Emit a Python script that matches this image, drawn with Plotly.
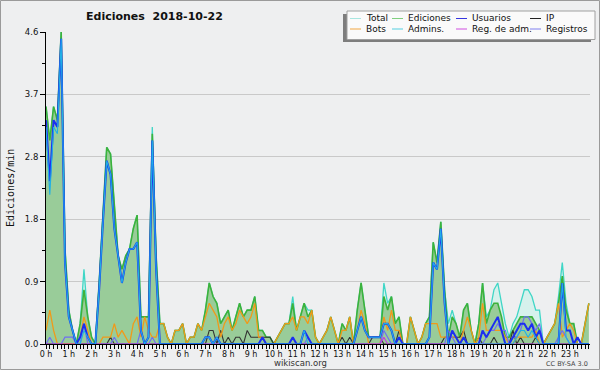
import plotly.graph_objects as go

# 10-minute slots over the day (144 slots)
slots = list(range(144))
hour_ticks = list(range(0, 144, 6))
hour_labels = [f"{h} h" for h in range(24)]
y_ticks = [0, 0.92, 1.84, 2.76, 3.68, 4.6]
y_labels = ["0.0", "0.9", "1.8", "2.8", "3.7", "4.6"]

ediciones = [
    3.5, 3.0, 3.5, 3.3, 4.6, 1.4, 0.5, 0.2, 0.0, 0.3, 0.8, 0.4,
    0.1, 0.0, 0.9, 1.9, 2.9, 2.8, 2.0, 1.3, 1.1, 1.3, 1.4, 1.7,
    1.9, 0.4, 0.4, 0.4, 3.1, 1.3, 0.3, 0.3, 0.1, 0.0, 0.2, 0.2,
    0.3, 0.0, 0.1, 0.1, 0.3, 0.2, 0.5, 0.9, 0.7, 0.6, 0.3, 0.4,
    0.5, 0.2, 0.4, 0.6, 0.4, 0.5, 0.5, 0.7, 0.2, 0.2, 0.1, 0.1,
    0.0, 0.1, 0.2, 0.3, 0.3, 0.6, 0.2, 0.4, 0.6, 0.4, 0.5, 0.1,
    0.0, 0.1, 0.2, 0.4, 0.2, 0.0, 0.3, 0.2, 0.4, 0.0, 0.5, 0.9,
    0.5, 0.1, 0.1, 0.1, 0.1, 0.7, 0.5, 0.7, 0.3, 0.4, 0.0, 0.0,
    0.4, 0.2, 0.0, 0.1, 0.3, 0.4, 1.5, 1.2, 1.8, 0.8, 0.1, 0.4,
    0.3, 0.1, 0.5, 0.6, 0.2, 0.0, 0.3, 0.9, 0.3, 0.5, 0.6, 0.6,
    0.4, 0.1, 0.1, 0.2, 0.3, 0.4, 0.4, 0.4, 0.4, 0.3, 0.2, 0.0,
    0.1, 0.2, 0.3, 0.6, 1.0, 0.5, 0.3, 0.3, 0.0, 0.0, 0.3, 0.6,
]

total = [
    3.5, 3.0, 3.5, 3.3, 4.6, 1.4, 0.5, 0.2, 0.0, 0.3, 1.1, 0.4,
    0.1, 0.0, 0.9, 1.9, 2.9, 2.8, 2.0, 1.3, 1.1, 1.3, 1.4, 1.7,
    1.9, 0.4, 0.4, 0.4, 3.2, 1.3, 0.3, 0.3, 0.1, 0.0, 0.2, 0.2,
    0.3, 0.0, 0.1, 0.1, 0.3, 0.2, 0.5, 0.9, 0.7, 0.6, 0.3, 0.4,
    0.5, 0.2, 0.4, 0.6, 0.4, 0.5, 0.5, 0.7, 0.2, 0.2, 0.1, 0.1,
    0.0, 0.1, 0.2, 0.3, 0.3, 0.7, 0.2, 0.4, 0.6, 0.5, 0.5, 0.1,
    0.0, 0.1, 0.2, 0.4, 0.2, 0.0, 0.3, 0.2, 0.4, 0.0, 0.5, 0.9,
    0.5, 0.1, 0.1, 0.1, 0.1, 0.9, 0.6, 0.7, 0.3, 0.4, 0.0, 0.0,
    0.4, 0.2, 0.0, 0.1, 0.3, 0.4, 1.5, 1.2, 1.8, 0.8, 0.3, 0.5,
    0.3, 0.1, 0.5, 0.6, 0.2, 0.0, 0.3, 0.9, 0.4, 0.5, 0.8, 0.9,
    0.6, 0.3, 0.1, 0.3, 0.4, 0.6, 0.8, 0.8, 0.7, 0.5, 0.5, 0.0,
    0.1, 0.2, 0.3, 0.7, 1.2, 0.6, 0.3, 0.3, 0.0, 0.0, 0.3, 0.6,
]

usuarios = [
    3.3, 2.4, 3.3, 3.2, 4.5, 1.2, 0.4, 0.2, 0.0, 0.1, 0.3, 0.1,
    0.0, 0.0, 0.8, 1.8, 2.7, 2.5, 1.7, 1.3, 0.9, 1.2, 1.4, 1.4,
    1.5, 0.2, 0.0, 0.1, 3.0, 1.1, 0.0, 0.0, 0.0, 0.0, 0.0, 0.0,
    0.0, 0.0, 0.0, 0.0, 0.0, 0.0, 0.1, 0.1, 0.0, 0.1, 0.0, 0.0,
    0.0, 0.0, 0.0, 0.0, 0.0, 0.0, 0.0, 0.0, 0.0, 0.1, 0.0, 0.0,
    0.0, 0.0, 0.0, 0.0, 0.0, 0.1, 0.0, 0.0, 0.2, 0.1, 0.0, 0.0,
    0.0, 0.0, 0.0, 0.0, 0.0, 0.0, 0.0, 0.0, 0.0, 0.0, 0.2, 0.4,
    0.2, 0.1, 0.1, 0.1, 0.1, 0.3, 0.3, 0.2, 0.0, 0.1, 0.0, 0.0,
    0.0, 0.0, 0.0, 0.0, 0.0, 0.1, 1.2, 1.1, 1.7, 0.6, 0.0, 0.2,
    0.1, 0.0, 0.1, 0.0, 0.0, 0.0, 0.0, 0.2, 0.1, 0.2, 0.3, 0.4,
    0.2, 0.0, 0.0, 0.1, 0.2, 0.3, 0.3, 0.2, 0.3, 0.1, 0.2, 0.0,
    0.0, 0.0, 0.0, 0.0, 0.9, 0.2, 0.2, 0.0, 0.1, 0.0, 0.0, 0.0,
]

admins = [
    3.2, 2.2, 3.2, 3.1, 4.5, 1.2, 0.4, 0.2, 0.0, 0.0, 0.2, 0.1,
    0.0, 0.0, 0.8, 1.8, 2.7, 2.5, 1.7, 1.3, 0.9, 1.2, 1.4, 1.4,
    1.5, 0.2, 0.0, 0.1, 3.0, 1.1, 0.0, 0.0, 0.0, 0.0, 0.0, 0.0,
    0.0, 0.0, 0.0, 0.0, 0.0, 0.0, 0.1, 0.1, 0.0, 0.1, 0.0, 0.0,
    0.0, 0.0, 0.0, 0.0, 0.0, 0.0, 0.0, 0.0, 0.0, 0.0, 0.0, 0.0,
    0.0, 0.0, 0.0, 0.0, 0.0, 0.0, 0.0, 0.0, 0.2, 0.0, 0.0, 0.0,
    0.0, 0.0, 0.0, 0.0, 0.0, 0.0, 0.0, 0.0, 0.0, 0.0, 0.2, 0.4,
    0.2, 0.1, 0.1, 0.1, 0.1, 0.3, 0.3, 0.2, 0.0, 0.0, 0.0, 0.0,
    0.0, 0.0, 0.0, 0.0, 0.0, 0.1, 1.2, 1.1, 1.7, 0.6, 0.0, 0.0,
    0.0, 0.0, 0.0, 0.0, 0.0, 0.0, 0.0, 0.0, 0.0, 0.0, 0.0, 0.0,
    0.0, 0.0, 0.0, 0.0, 0.1, 0.2, 0.2, 0.1, 0.2, 0.1, 0.0, 0.0,
    0.0, 0.0, 0.0, 0.0, 0.9, 0.1, 0.0, 0.0, 0.0, 0.0, 0.0, 0.0,
]

bots = [
    0.2, 0.5, 0.2, 0.0, 0.0, 0.0, 0.0, 0.0, 0.0, 0.1, 0.4, 0.2,
    0.0, 0.0, 0.0, 0.1, 0.1, 0.1, 0.3, 0.1, 0.2, 0.1, 0.0, 0.3,
    0.4, 0.1, 0.4, 0.2, 0.1, 0.1, 0.3, 0.3, 0.1, 0.0, 0.2, 0.2,
    0.3, 0.0, 0.1, 0.1, 0.3, 0.2, 0.4, 0.6, 0.5, 0.4, 0.1, 0.3,
    0.4, 0.2, 0.3, 0.5, 0.4, 0.3, 0.4, 0.6, 0.1, 0.1, 0.0, 0.0,
    0.0, 0.1, 0.2, 0.3, 0.3, 0.4, 0.2, 0.4, 0.4, 0.3, 0.5, 0.1,
    0.0, 0.1, 0.2, 0.4, 0.2, 0.0, 0.2, 0.2, 0.4, 0.0, 0.2, 0.5,
    0.3, 0.0, 0.0, 0.0, 0.0, 0.4, 0.2, 0.5, 0.2, 0.2, 0.0, 0.0,
    0.4, 0.2, 0.0, 0.1, 0.3, 0.3, 0.3, 0.3, 0.1, 0.1, 0.1, 0.1,
    0.1, 0.0, 0.2, 0.4, 0.2, 0.0, 0.1, 0.6, 0.2, 0.2, 0.2, 0.2,
    0.2, 0.1, 0.0, 0.0, 0.1, 0.1, 0.1, 0.1, 0.1, 0.2, 0.0, 0.0,
    0.1, 0.2, 0.3, 0.6, 0.1, 0.2, 0.3, 0.2, 0.0, 0.0, 0.3, 0.6,
]

ip = [
    0.0, 0.0, 0.0, 0.0, 0.0, 0.0, 0.0, 0.0, 0.0, 0.0, 0.0, 0.0,
    0.0, 0.0, 0.0, 0.0, 0.0, 0.1, 0.0, 0.0, 0.0, 0.0, 0.0, 0.0,
    0.0, 0.0, 0.0, 0.0, 0.0, 0.0, 0.0, 0.0, 0.0, 0.0, 0.0, 0.0,
    0.0, 0.0, 0.0, 0.0, 0.0, 0.0, 0.0, 0.2, 0.2, 0.0, 0.2, 0.0,
    0.1, 0.0, 0.1, 0.1, 0.0, 0.2, 0.1, 0.1, 0.1, 0.1, 0.1, 0.1,
    0.0, 0.0, 0.0, 0.0, 0.0, 0.0, 0.0, 0.0, 0.0, 0.0, 0.0, 0.0,
    0.0, 0.0, 0.0, 0.0, 0.0, 0.0, 0.1, 0.0, 0.1, 0.0, 0.0, 0.0,
    0.0, 0.0, 0.1, 0.1, 0.1, 0.0, 0.0, 0.0, 0.0, 0.2, 0.0, 0.0,
    0.0, 0.0, 0.0, 0.0, 0.0, 0.0, 0.0, 0.0, 0.0, 0.1, 0.1, 0.1,
    0.1, 0.1, 0.2, 0.0, 0.0, 0.0, 0.1, 0.0, 0.0, 0.0, 0.1, 0.0,
    0.0, 0.0, 0.0, 0.2, 0.0, 0.1, 0.0, 0.0, 0.0, 0.1, 0.0, 0.0,
    0.0, 0.0, 0.0, 0.0, 0.0, 0.0, 0.0, 0.0, 0.1, 0.0, 0.0, 0.0,
]

registros = [
    0.0, 0.1, 0.0, 0.0, 0.0, 0.1, 0.1, 0.1, 0.0, 0.0, 0.3, 0.0,
    0.0, 0.0, 0.0, 0.0, 0.0, 0.0, 0.1, 0.0, 0.0, 0.0, 0.0, 0.0,
    0.0, 0.2, 0.0, 0.0, 0.1, 0.0, 0.0, 0.0, 0.0, 0.0, 0.0, 0.0,
    0.0, 0.0, 0.0, 0.0, 0.0, 0.0, 0.0, 0.0, 0.0, 0.0, 0.0, 0.0,
    0.0, 0.0, 0.0, 0.0, 0.0, 0.0, 0.0, 0.0, 0.0, 0.0, 0.0, 0.0,
    0.0, 0.0, 0.0, 0.0, 0.0, 0.1, 0.0, 0.0, 0.0, 0.1, 0.0, 0.0,
    0.0, 0.0, 0.0, 0.0, 0.0, 0.0, 0.0, 0.0, 0.0, 0.0, 0.0, 0.0,
    0.0, 0.0, 0.0, 0.0, 0.0, 0.2, 0.1, 0.0, 0.0, 0.0, 0.0, 0.0,
    0.0, 0.0, 0.0, 0.0, 0.0, 0.0, 0.0, 0.0, 0.0, 0.0, 0.2, 0.1,
    0.0, 0.0, 0.0, 0.0, 0.0, 0.0, 0.0, 0.0, 0.1, 0.2, 0.2, 0.3,
    0.2, 0.2, 0.0, 0.1, 0.1, 0.2, 0.4, 0.4, 0.3, 0.2, 0.3, 0.0,
    0.0, 0.0, 0.0, 0.1, 0.2, 0.1, 0.0, 0.0, 0.0, 0.0, 0.0, 0.0,
]

reg_adm = [0.0] * 89 + [0.1] + [0.0] * 54

series = [
    ("Total", total, "#3fd6c6", 1.3),
    ("Ediciones", ediciones, "#3cb23c", 1.6),
    ("IP", ip, "#333333", 1.1),
    ("Bots", bots, "#f09a1a", 1.3),
    ("Registros", registros, "#6f6ff2", 1.2),
    ("Reg. de adm.", reg_adm, "#c040e0", 1.2),
    ("Usuarios", usuarios, "#1c2ff0", 2.0),
    ("Admins.", admins, "#1fb0e6", 1.1),
]

fig = go.Figure()
for name, vals, color, w in series:
    kw = {}
    if name == "Total":
        kw = dict(fill="tozeroy", fillcolor="#d6f1ec")
    elif name == "Ediciones":
        kw = dict(fill="tozeroy", fillcolor="#99cc99")
    fig.add_trace(go.Scatter(x=slots, y=vals, mode="lines", name=name,
                             line=dict(color=color, width=w), showlegend=False,
                             hoverinfo="skip", **kw))

L, R, T, B, W, H = 46, 10, 32, 26, 600, 370
PW, PH = W - L - R, H - T - B

def px(x):
    return (x - L) / PW

def py(y):
    return (H - B - y) / PH

shapes = []
annotations = []

# outer frame
shapes.append(dict(type="rect", xref="paper", yref="paper", x0=px(0.5), x1=px(599.5),
                   y0=py(369.5), y1=py(0.5), line=dict(color="#9a9a9a", width=1), layer="below"))

# legend box with shadow
shapes.append(dict(type="rect", xref="paper", yref="paper", x0=px(343), x1=px(591),
                   y0=py(42), y1=py(14), fillcolor="#7d7d7d", line=dict(width=0), layer="above"))
shapes.append(dict(type="rect", xref="paper", yref="paper", x0=px(347), x1=px(595),
                   y0=py(39.5), y1=py(11), fillcolor="#fafafa",
                   line=dict(color="#a0a0a0", width=1), layer="above"))

legend_items = [
    ("Total", "#a8e6e0", 350, 18.5), ("Ediciones", "#7fcf7f", 392, 18.5),
    ("Usuarios", "#3535e0", 456, 18.5), ("IP", "#222222", 530, 18.5),
    ("Bots", "#f2a640", 350, 29), ("Admins.", "#55cfe0", 392, 29),
    ("Reg. de adm.", "#d04ee0", 456, 29), ("Registros", "#8080f0", 530, 29),
]
for label, color, x0, y0 in legend_items:
    shapes.append(dict(type="line", xref="paper", yref="paper", x0=px(x0), x1=px(x0 + 11),
                       y0=py(y0), y1=py(y0), line=dict(color=color, width=1), layer="above"))
    annotations.append(dict(text=label, xref="paper", yref="paper", x=px(x0 + 14), y=py(y0),
                            xanchor="left", yanchor="middle", showarrow=False,
                            font=dict(family="DejaVu Sans", size=9, color="#111111")))

annotations.append(dict(text="<b>Ediciones  2018-10-22</b>", xref="paper", yref="paper",
                        x=px(154), y=py(17), xanchor="center", yanchor="middle", showarrow=False,
                        font=dict(family="DejaVu Sans", size=11, color="#111111")))
annotations.append(dict(text="Ediciones/min", xref="paper", yref="paper", x=px(10), y=py(188),
                        textangle=-90, xanchor="center", yanchor="middle", showarrow=False,
                        font=dict(family="DejaVu Sans Mono", size=10, color="#111111")))
annotations.append(dict(text="wikiscan.org", xref="paper", yref="paper", x=px(300), y=py(363),
                        xanchor="center", yanchor="middle", showarrow=False,
                        font=dict(family="DejaVu Sans", size=8.5, color="#333333")))
annotations.append(dict(text="CC BY-SA 3.0", xref="paper", yref="paper", x=px(590), y=py(363.5),
                        xanchor="right", yanchor="middle", showarrow=False,
                        font=dict(family="DejaVu Sans", size=6.5, color="#444444")))

fig.update_layout(
    width=W, height=H,
    margin=dict(l=L, r=R, t=T, b=B, pad=0),
    paper_bgcolor="#eeeff0", plot_bgcolor="#eeeff0",
    shapes=shapes, annotations=annotations,
    showlegend=False,
)
fig.update_xaxes(
    range=[0, 143.3], tickmode="array", tickvals=hour_ticks, ticktext=hour_labels,
    ticks="outside", ticklen=4, tickwidth=1, tickcolor="#000000",
    showline=True, linecolor="#000000", linewidth=1, showgrid=False, zeroline=False,
    tickfont=dict(family="DejaVu Sans", size=8, color="#111111"),
    ticklabelstandoff=-2,
    minor=dict(tickmode="linear", tick0=0, dtick=1, ticks="outside", ticklen=4,
               tickcolor="#000000", showgrid=False),
)
fig.update_yaxes(
    range=[0, 4.6], tickmode="array", tickvals=y_ticks, ticktext=y_labels,
    ticks="outside", ticklen=5, tickwidth=1, tickcolor="#000000",
    showline=True, linecolor="#000000", linewidth=1,
    showgrid=True, gridcolor="#c9c9c9", gridwidth=1, zeroline=False,
    tickfont=dict(family="DejaVu Sans", size=8.5, color="#111111"),
    minor=dict(tickmode="linear", tick0=0.46, dtick=0.92, ticks="outside", ticklen=3,
               tickcolor="#000000", showgrid=False),
)

fig.write_html("out.html", config={"displayModeBar": False},
               post_script="document.body.style.margin='0';"
               "document.body.style.background='#eeeff0';")
